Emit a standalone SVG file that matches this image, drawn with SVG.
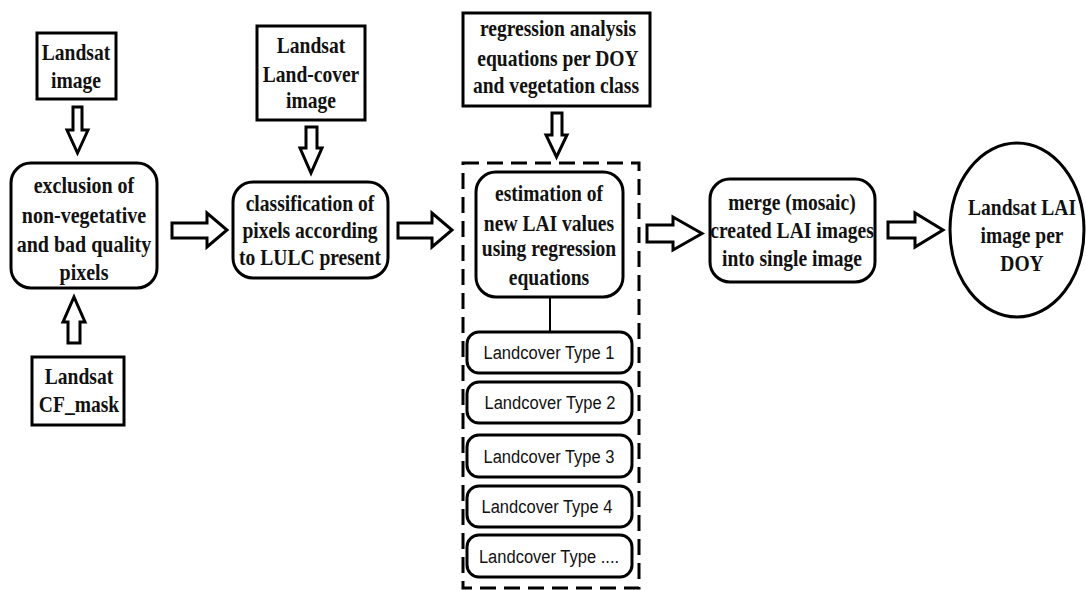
<svg xmlns="http://www.w3.org/2000/svg" width="1086" height="590" viewBox="0 0 1086 590">
<style>
.box{fill:#fff;stroke:#000;stroke-width:3}
.arr{fill:#fff;stroke:#000;stroke-width:3;stroke-linejoin:miter}
.t{font-family:"Liberation Serif","Times New Roman",serif;font-weight:bold;font-size:23px;fill:#111;text-anchor:middle}
.s{font-family:"Liberation Sans",Arial,sans-serif;font-size:19px;fill:#111;text-anchor:middle}
</style>
<rect width="1086" height="590" fill="#fff"/>
<g id="connectors">
<polygon class="arr" points="73,107 82,107 82,130 88,130 77.5,153 67,130 73,130"/>
<polygon class="arr" points="74,297 85,322 80,322 80,343 68,343 68,322 63,322"/>
<polygon class="arr" points="306,127 317,127 317,148 322,148 311,173 300,148 306,148"/>
<polygon class="arr" points="552,113 562,113 562,135 567,135 556.5,157 546,135 552,135"/>
<polygon class="arr" points="172,223 207,223 207,213 227,230 207,247 207,238 172,238"/>
<polygon class="arr" points="398,223 432,223 432,213 452,230 432,247 432,238 398,238"/>
<polygon class="arr" points="647,225 673,225 673,217 702,233.5 673,250 673,242 647,242"/>
<polygon class="arr" points="888,222 915,222 915,213 943,230 915,247 915,238 888,238"/>
<line x1="550" y1="297" x2="550" y2="332" stroke="#000" stroke-width="2"/>
</g>
<g id="landsat-image">
<rect class="box" x="37" y="33" width="79" height="66"/>
<text class="t" transform="translate(76 60) scale(0.85 1)">Landsat</text>
<text class="t" transform="translate(76 88) scale(0.85 1)">image</text>
</g>
<g id="exclusion">
<rect class="box" x="11" y="163" width="146" height="125" rx="20"/>
<text class="t" transform="translate(84 193) scale(0.87 1)">exclusion of</text>
<text class="t" transform="translate(84 223) scale(0.87 1)">non-vegetative</text>
<text class="t" transform="translate(84 252) scale(0.87 1)">and bad quality</text>
<text class="t" transform="translate(84 280) scale(0.87 1)">pixels</text>
</g>
<g id="cf-mask">
<rect class="box" x="32" y="357" width="92" height="68"/>
<text class="t" transform="translate(79 384) scale(0.85 1)">Landsat</text>
<text class="t" transform="translate(79 412) scale(0.85 1)">CF_mask</text>
</g>
<g id="landcover-image">
<rect class="box" x="257" y="26" width="108" height="94"/>
<text class="t" transform="translate(311 53) scale(0.85 1)">Landsat</text>
<text class="t" transform="translate(311 82) scale(0.85 1)">Land-cover</text>
<text class="t" transform="translate(311 108) scale(0.85 1)">image</text>
</g>
<g id="classification">
<rect class="box" x="233" y="182" width="155" height="96" rx="20"/>
<text class="t" transform="translate(310 211) scale(0.85 1)">classification of</text>
<text class="t" transform="translate(310 238) scale(0.85 1)">pixels according</text>
<text class="t" transform="translate(310 265) scale(0.85 1)">to LULC present</text>
</g>
<g id="regression">
<rect class="box" x="463" y="13" width="187" height="93"/>
<text class="t" transform="translate(558 36) scale(0.85 1)">regression analysis</text>
<text class="t" transform="translate(558 66) scale(0.85 1)">equations per DOY</text>
<text class="t" transform="translate(556 93) scale(0.85 1)">and vegetation class</text>
</g>
<g id="estimation-group">
<rect x="463" y="163" width="176" height="425" fill="none" stroke="#000" stroke-width="3" stroke-dasharray="16 8"/>
</g>
<g id="estimation">
<rect class="box" x="476" y="172" width="147" height="125" rx="20"/>
<text class="t" transform="translate(549 201) scale(0.85 1)">estimation of</text>
<text class="t" transform="translate(549 231) scale(0.85 1)">new LAI values</text>
<text class="t" transform="translate(549 256) scale(0.85 1)">using regression</text>
<text class="t" transform="translate(549 285) scale(0.85 1)">equations</text>
</g>
<g id="type1">
<rect class="box" x="467" y="332" width="165" height="41" rx="12"/>
<text class="s" transform="translate(549 359) scale(0.87 1)">Landcover Type 1</text>
</g>
<g id="type2">
<rect class="box" x="467" y="382" width="165" height="41" rx="12"/>
<text class="s" transform="translate(550 409) scale(0.87 1)">Landcover Type 2</text>
</g>
<g id="type3">
<rect class="box" x="467" y="435" width="165" height="42" rx="12"/>
<text class="s" transform="translate(549 463) scale(0.87 1)">Landcover Type 3</text>
</g>
<g id="type4">
<rect class="box" x="467" y="486" width="165" height="41" rx="12"/>
<text class="s" transform="translate(547 513) scale(0.87 1)">Landcover Type 4</text>
</g>
<g id="type5">
<rect class="box" x="467" y="535" width="165" height="42" rx="12"/>
<text class="s" transform="translate(549 563) scale(0.87 1)">Landcover Type ....</text>
</g>
<g id="merge">
<rect class="box" x="710" y="179" width="165" height="103" rx="20"/>
<text class="t" transform="translate(792 210) scale(0.85 1)">merge (mosaic)</text>
<text class="t" transform="translate(792 238) scale(0.85 1)">created LAI images</text>
<text class="t" transform="translate(792 266) scale(0.85 1)">into single image</text>
</g>
<g id="result">
<ellipse class="box" cx="1017" cy="230" rx="67" ry="87"/>
<text class="t" transform="translate(1022 215) scale(0.85 1)">Landsat LAI</text>
<text class="t" transform="translate(1022 243) scale(0.85 1)">image per</text>
<text class="t" transform="translate(1022 271) scale(0.85 1)">DOY</text>
</g>
</svg>
